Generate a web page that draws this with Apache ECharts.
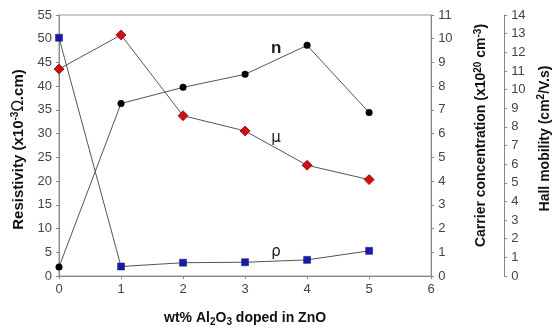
<!DOCTYPE html>
<html>
<head>
    <meta charset="utf-8">
    <title>Al2O3 doped ZnO</title>
    <script src="https://cdn.jsdelivr.net/npm/echarts@6/dist/echarts.min.js"></script>
    <style>
        html, body { margin: 0; padding: 0; background: #fff; }
        #chart1 { width: 560px; height: 332px; }
    </style>
</head>
<body>
<div id="chart1"></div>
<script type="text/javascript">
    // wt% Al2O3
    var doping = [0, 1, 2, 3, 4, 5];
    // resistivity (x10^-3 ohm.cm), left axis
    var resistivity = [50.2, 2.0, 2.8, 2.9, 3.4, 5.3];
    // carrier concentration (x10^20 cm^-3), first right axis
    var carrier = [0.38, 7.27, 7.95, 8.5, 9.72, 6.89];
    // hall mobility (cm2/V.s), second right axis
    var mobility = [11.1, 12.93, 8.6, 7.78, 5.94, 5.17];

    function pairs(ys) {
        return doping.map(function (x, i) { return [x, ys[i]]; });
    }

    var tickFont = { color: '#444', fontSize: 13, fontFamily: 'Liberation Sans' };
    var nameFont = { color: '#111', fontSize: 14, fontWeight: 'bold', fontFamily: 'Liberation Sans' };
    var richName = {
        sup: { fontSize: 10, fontWeight: 'bold', verticalAlign: 'top', padding: [0, 0, 7, 0], fontFamily: 'Liberation Sans', color: '#111' },
        sub: { fontSize: 10, fontWeight: 'bold', padding: [7, 0, 0, 0], fontFamily: 'Liberation Sans', color: '#111' },
        u: { fontSize: 15, fontWeight: 'normal', textDecoration: 'underline', fontFamily: 'DejaVu Sans', color: '#111' }
    };
    var axLine = { show: true, lineStyle: { color: '#888', width: 1 } };
    var tick = { show: true, length: 3, lineStyle: { color: '#888' } };

    // text tag placed on the chart through the series' own axes
    function tag(x, y, txt, bold) {
        return {
            symbol: 'circle', symbolSize: 1, itemStyle: { color: 'rgba(0,0,0,0)' },
            data: [{ coord: [x, y] }],
            label: {
                show: true, position: 'inside', formatter: txt, color: '#1a1a1a',
                fontSize: bold ? 17 : 15, fontWeight: bold ? 'bold' : 'normal',
                fontFamily: bold ? 'Liberation Sans' : 'DejaVu Sans'
            }
        };
    }

    var myChart1 = echarts.init(document.getElementById('chart1'));
    myChart1.setOption({
        animation: false,
        grid: { left: 59, right: 128, top: 15, bottom: 56, show: true, borderColor: '#999', borderWidth: 1 },
        xAxis: {
            type: 'value', min: 0, max: 6, interval: 1,
            axisLine: axLine, axisTick: tick, splitLine: { show: false },
            axisLabel: Object.assign({ margin: 7 }, tickFont),
            name: 'wt% Al{sub|2}O{sub|3} doped in ZnO', nameLocation: 'middle', nameGap: 34,
            nameTextStyle: Object.assign({ rich: richName }, nameFont)
        },
        yAxis: [{
            type: 'value', min: 0, max: 55, interval: 5, position: 'left',
            axisLine: axLine, axisTick: tick, splitLine: { show: false },
            axisLabel: Object.assign({ margin: 7 }, tickFont),
            name: 'Resistivity (x10{sup|-3}{u|Ω}.cm)', nameLocation: 'middle', nameRotate: 90, nameGap: 31,
            nameTextStyle: Object.assign({ rich: richName, padding: [0, 8, 0, 0] }, nameFont, { fontSize: 15 })
        }, {
            type: 'value', min: 0, max: 11, interval: 1, position: 'right',
            axisLine: axLine, axisTick: tick, splitLine: { show: false },
            axisLabel: Object.assign({ margin: 7 }, tickFont),
            name: 'Carrier concentration (x10{sup|20} cm{sup|-3})', nameLocation: 'middle', nameRotate: 90, nameGap: 42,
            nameTextStyle: Object.assign({ rich: richName, padding: [0, 0, 0, 20] }, nameFont)
        }, {
            type: 'value', min: 0, max: 14, interval: 1, position: 'right', offset: 73,
            axisLine: axLine, axisTick: tick, splitLine: { show: false },
            axisLabel: Object.assign({ margin: 7 }, tickFont),
            name: 'Hall mobility (cm{sup|2}/V.s)', nameLocation: 'middle', nameRotate: 90, nameGap: 27,
            nameTextStyle: Object.assign({ rich: richName, padding: [0, 0, 0, 14] }, nameFont)
        }],
        series: [{
            name: 'ρ', type: 'line', yAxisIndex: 0, data: pairs(resistivity),
            symbol: 'rect', symbolSize: 7,
            itemStyle: { color: '#1a1aa8', borderColor: '#10107a', borderWidth: 0.5 },
            lineStyle: { color: '#555', width: 1 },
            markPoint: tag(3.5, 5.0, 'ρ', false)
        }, {
            name: 'n', type: 'line', yAxisIndex: 1, data: pairs(carrier),
            symbol: 'circle', symbolSize: 7,
            itemStyle: { color: '#000' },
            lineStyle: { color: '#555', width: 1 },
            markPoint: tag(3.5, 9.6, 'n', true)
        }, {
            name: 'μ', type: 'line', yAxisIndex: 2, data: pairs(mobility),
            symbol: 'diamond', symbolSize: 10,
            itemStyle: { color: '#d01010', borderColor: '#7a0a0a', borderWidth: 0.8 },
            lineStyle: { color: '#555', width: 1 },
            markPoint: tag(3.5, 7.39, 'μ', false)
        }]
    });
</script>
</body>
</html>
